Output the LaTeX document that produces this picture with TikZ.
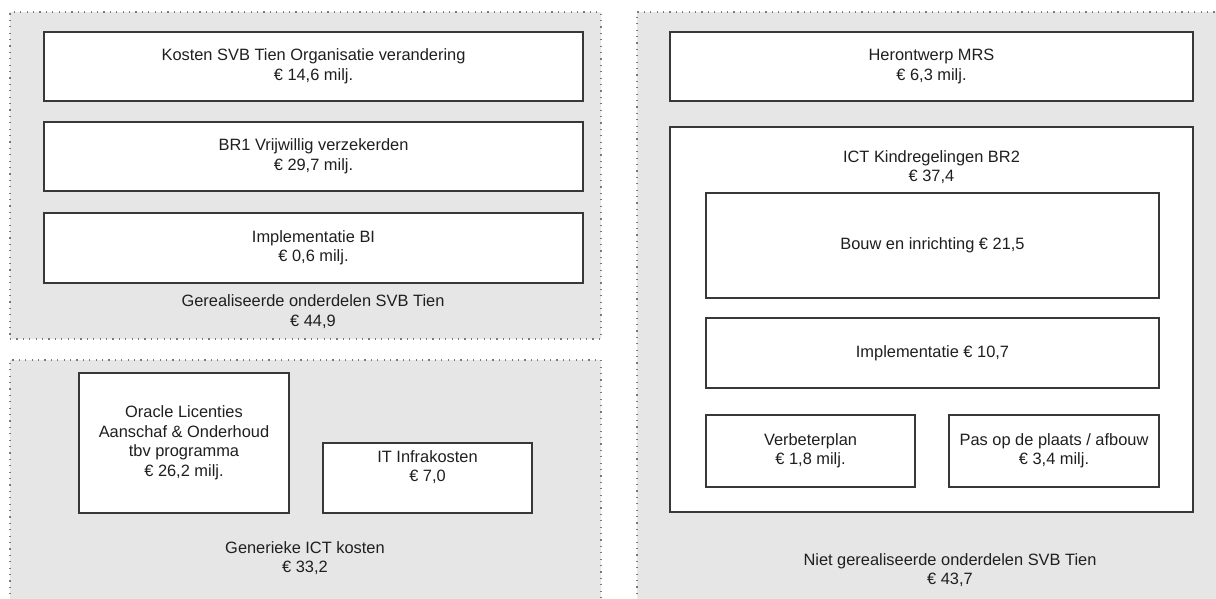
\documentclass[tikz,border=0pt]{standalone}
\usepackage{fontspec}
\setmainfont{Liberation Sans}
\usepackage{tikz, xcolor}

\definecolor{panelgray}{HTML}{E6E6E6}
\definecolor{dotgray}{HTML}{7A7A7A}
\definecolor{linegray}{HTML}{383838}

\begin{document}
\begin{tikzpicture}[x=1pt, y=-1pt,
    every node/.style={font=\fontsize{16.4}{19.5}\selectfont, align=center, text=black!88},
    panel/.style={fill=panelgray, draw=dotgray, line width=1.2pt, dash pattern=on 1.2pt off 5.2pt, inner sep=0pt},
    post/.style={draw=linegray, fill=white, line width=1.4pt, inner sep=0pt}]
    \useasboundingbox (0,0) rectangle (1216,598);
    \fill[white] (0,0) rectangle (1216,598);
    \clip (0,0) rectangle (1216,598);

    % the three grey areas
    \node[panel, minimum width=591, minimum height=327] (realised) at (305.5,175.5) {};
    \node[panel, minimum width=591, minimum height=300] (generic) at (305.5,510) {};
    \node[panel, minimum width=640, minimum height=680] (open) at (957,352) {};

    % gerealiseerd
    \node[post, minimum width=539, minimum height=69] (kosten) at (313.5,66.5) {Kosten SVB Tien Organisatie verandering\\€ 14,6 milj.};
    \node[post, minimum width=539, minimum height=69] (br1) at (313.5,156.5) {BR1 Vrijwillig verzekerden\\€ 29,7 milj.};
    \node[post, minimum width=539, minimum height=70] (bi) at (313.5,248) {Implementatie BI\\€ 0,6 milj.};
    \node (realisedsum) at (313,311.5) {Gerealiseerde onderdelen SVB Tien\\€ 44,9};

    % generiek
    \node[post, minimum width=210, minimum height=140] (oracle) at (184,443) {Oracle Licenties\\Aanschaf \& Onderhoud\\tbv programma\\€ 26,2 milj.};
    \node[post, minimum width=209, minimum height=70, text depth=24pt] (infra) at (427.5,478) {IT Infrakosten\\€ 7,0};
    \node (genericsum) at (305,558) {Generieke ICT kosten\\€ 33,2};

    % niet gerealiseerd
    \node[post, minimum width=523, minimum height=69] (mrs) at (931.5,66.5) {Herontwerp MRS\\€ 6,3 milj.};
    \node[post, minimum width=523, minimum height=385] (ict) at (931.5,319.5) {};
    \node (icttitle) at (931.5,167) {ICT Kindregelingen BR2\\€ 37,4};
    \node[post, minimum width=453, minimum height=105] (bouw) at (932.5,245.5) {Bouw en inrichting € 21,5};
    \node[post, minimum width=453, minimum height=70] (impl) at (932.5,353) {Implementatie € 10,7};
    \node[post, minimum width=209, minimum height=72] (verbeter) at (810.5,451) {Verbeterplan\\€ 1,8 milj.};
    \node[post, minimum width=210, minimum height=72] (afbouw) at (1054,451) {Pas op de plaats / afbouw\\€ 3,4 milj.};
    \node (opensum) at (950,570) {Niet gerealiseerde onderdelen SVB Tien\\€ 43,7};
\end{tikzpicture}
\end{document}
